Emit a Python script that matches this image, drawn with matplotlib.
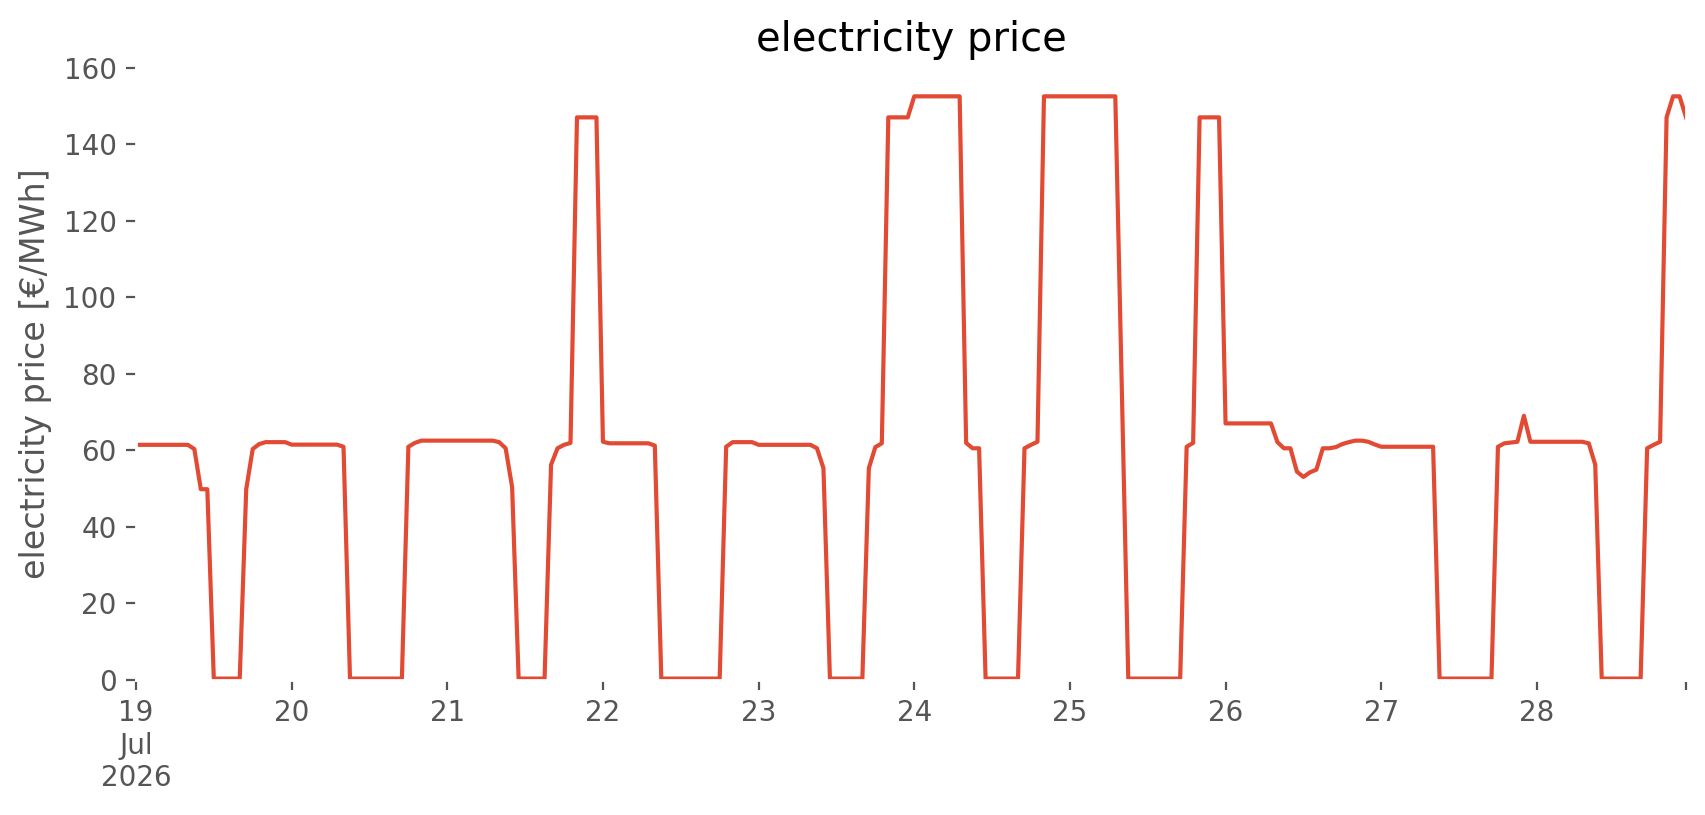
import matplotlib
matplotlib.use("Agg")
import matplotlib.pyplot as plt
import numpy as np
import pandas as pd

# hourly prices, 19 Jul 2026 00:00 .. 28 Jul 2026 23:00
times = pd.date_range("2026-07-19 00:00", periods=240, freq="h")

price = (
    [61.4] * 9 + [60.3, 49.8, 49.8] + [0.3] * 5 + [49.8, 60.3, 61.6] + [62.1] * 4   # 19
    + [61.45] * 8 + [60.9] + [0.3] * 9 + [60.9, 61.9]                                 # 20
    + [62.5] * 12 + [62.1, 60.5, 50.3] + [0.3] * 5 + [56.2, 60.5, 61.4, 61.9]          # 21
    + [147.0] * 4
    + [62.2] + [61.8] * 7 + [61.2] + [0.3] * 10 + [60.9] + [62.1] * 4                  # 22
    + [61.4] * 9 + [60.5, 55.3] + [0.3] * 6 + [55.3, 60.8, 61.8] + [147.0] * 4         # 23
    + [152.5] * 8 + [61.9, 60.5, 60.5] + [0.3] * 6 + [60.5, 61.4, 62.2] + [152.5] * 4  # 24
    + [152.5] * 8 + [76.0] + [0.3] * 9 + [60.9, 61.9] + [147.0] * 4                    # 25
    + [67.0] * 8 + [62.1, 60.5, 60.5, 54.4, 53.0, 54.2, 54.9, 60.5, 60.5, 60.8,
                    61.6, 62.1, 62.5, 62.5, 62.2, 61.5]                                # 26
    + [60.9] * 9 + [0.3] * 9 + [60.9, 61.8, 62.0, 62.2, 69.0] + [62.2] * 1             # 27
    + [62.2] * 8 + [61.8, 56.2] + [0.3] * 7 + [60.5, 61.4, 62.2,
                                              147.0, 152.5, 152.5, 147.0]              # 28
)
assert len(price) == len(times), len(price)

day_ticks = pd.date_range("2026-07-19", periods=10, freq="D")
day_labels = ["19\nJul\n2026"] + [str(d.day) for d in day_ticks[1:]]

plt.style.use("ggplot")
plt.rcParams["font.family"] = ["DejaVu Sans"]

fig = plt.figure(figsize=(8.53, 4.075), dpi=200)
ax = fig.add_axes([0.0797, 0.166, 0.9086, 0.751])
ax.set_facecolor("white")
ax.grid(False)

ax.plot(times, price, color="#E24A33", lw=1.5)

ax.set_xlim(times[0], times[-1])
ax.set_ylim(0, 160)
ax.set_yticks(np.arange(0, 161, 20))
ax.set_xticks(list(day_ticks) + [times[-1]])
ax.set_xticklabels(day_labels + [""])
ax.tick_params(axis="both", labelsize=10, colors="#555555")

ax.set_title("electricity price", fontsize=14.4)
ax.set_ylabel("electricity price [€/MWh]", fontsize=12, color="#555555")
ax.set_xlabel("")

fig.savefig("out.png", dpi=200, facecolor="white")
